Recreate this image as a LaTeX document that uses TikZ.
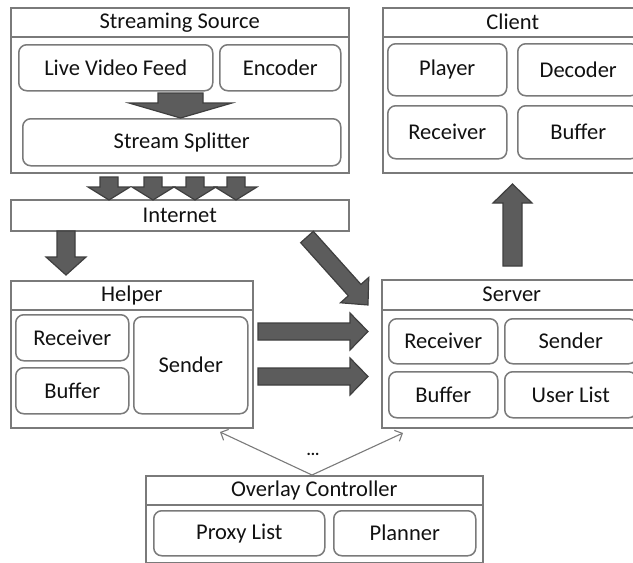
\documentclass[tikz,border=0pt]{standalone}
\usepackage{fontspec}
\setmainfont{Carlito}
\usetikzlibrary{calc,arrows.meta}

\definecolor{boxgray}{HTML}{7A7A7A}
\definecolor{arrowfill}{HTML}{5C5C5C}
\definecolor{arrowline}{HTML}{3F3F3F}
\definecolor{txt}{HTML}{111111}

% block arrow from #1 to #2: shaft half width #3, head half width #4, head length #5
\newcommand\blockarrow[5]{%
  \draw[blockarr] let \p1=(#1), \p2=(#2),
    \n1={atan2(\y2-\y1,\x2-\x1)}, \n2={veclen(\x2-\x1,\y2-\y1)} in
    [shift={(\p1)}, rotate=\n1]
    (0,#3) -- ({\n2-#5},#3) -- ({\n2-#5},#4) -- (\n2,0)
    -- ({\n2-#5},-#4) -- ({\n2-#5},-#3) -- (0,-#3) -- cycle;}

\tikzset{
  outer/.style={draw=boxgray, line width=1.5pt, inner sep=0pt, anchor=north west},
  band/.style={draw=boxgray, line width=1.5pt, inner sep=0pt, anchor=north west,
    text=txt, font=\fontsize{22.5}{26}\selectfont},
  part/.style={draw=boxgray, line width=1.5pt, rounded corners=8pt, inner sep=0pt,
    anchor=north west, text=txt, font=\fontsize{22.5}{26}\selectfont},
  blockarr/.style={fill=arrowfill, draw=arrowline, line width=1.2pt, line join=miter},
  thin/.style={draw=boxgray, line width=1.1pt, -{Straight Barb[length=6pt,width=12pt]}},
}

\begin{document}
\begin{tikzpicture}[x=1pt,y=1pt]
\useasboundingbox (0,0) rectangle (633,-563);
\clip (0,0) rectangle (633,-563);

% Streaming Source
\node[outer, minimum width=338pt, minimum height=165pt] (src) at (10,-7) {};
\node[band, minimum width=338pt, minimum height=29pt] (srct) at (10,-7) {Streaming Source};
\node[part, minimum width=194pt, minimum height=46pt] (feed) at (18,-44) {Live Video Feed};
\node[part, minimum width=121pt, minimum height=46pt] (enc) at (219,-44) {Encoder};
\node[part, minimum width=318pt, minimum height=47pt] (split) at (22,-118) {Stream Splitter};

% Internet
\node[band, minimum width=338pt, minimum height=31pt] (net) at (10,-199) {Internet};

% Client
\node[outer, minimum width=260pt, minimum height=165pt] (cli) at (382,-7) {};
\node[band, minimum width=260pt, minimum height=29pt] (clit) at (382,-7) {Client};
\node[part, minimum width=119pt, minimum height=52pt] (play) at (387,-43) {Player};
\node[part, minimum width=121pt, minimum height=52pt] (dec) at (517,-43) {Decoder};
\node[part, minimum width=119pt, minimum height=53pt] (crec) at (387,-105) {Receiver};
\node[part, minimum width=121pt, minimum height=53pt] (cbuf) at (517,-105) {Buffer};

% Helper
\node[outer, minimum width=242pt, minimum height=147pt] (hlp) at (10,-280) {};
\node[band, minimum width=242pt, minimum height=29pt] (hlpt) at (10,-280) {Helper};
\node[part, minimum width=113pt, minimum height=46pt] (hrec) at (15,-314) {Receiver};
\node[part, minimum width=113pt, minimum height=46pt] (hbuf) at (15,-367) {Buffer};
\node[part, minimum width=114pt, minimum height=97pt] (hsnd) at (133,-316) {Sender};

% Server
\node[outer, minimum width=260pt, minimum height=148pt] (srv) at (381,-279) {};
\node[band, minimum width=260pt, minimum height=30pt] (srvt) at (381,-279) {Server};
\node[part, minimum width=109pt, minimum height=45pt] (srec) at (388,-318) {Receiver};
\node[part, minimum width=132pt, minimum height=45pt] (ssnd) at (504,-318) {Sender};
\node[part, minimum width=109pt, minimum height=46pt] (sbuf) at (388,-371) {Buffer};
\node[part, minimum width=132pt, minimum height=46pt] (slist) at (504,-371) {User List};

% Overlay Controller
\node[outer, minimum width=337pt, minimum height=87pt] (ovl) at (145,-475) {};
\node[band, minimum width=337pt, minimum height=29pt] (ovlt) at (145,-475) {Overlay Controller};
\node[part, minimum width=171pt, minimum height=45pt] (proxy) at (153,-510) {Proxy List};
\node[part, minimum width=142pt, minimum height=45pt] (plan) at (333,-510) {Planner};
\node[text=txt, font=\bfseries\fontsize{16}{17}\selectfont] (dots) at (313,-454) {...};

% arrow end points
\coordinate (bigs) at (180.5,-93);   \coordinate (bige) at (180.5,-118);
\coordinate (s1s) at (109,-177);  \coordinate (s1e) at (109,-200);
\coordinate (s2s) at (153,-177);  \coordinate (s2e) at (153,-200);
\coordinate (s3s) at (195,-177);  \coordinate (s3e) at (195,-200);
\coordinate (s4s) at (236,-177);  \coordinate (s4e) at (236,-200);
\coordinate (hs) at (66,-231);    \coordinate (he) at (66,-275);
\coordinate (ds) at (307,-237);   \coordinate (de) at (368,-305);
\coordinate (r1s) at (258,-331.5); \coordinate (r1e) at (368,-331.5);
\coordinate (r2s) at (258,-376.5); \coordinate (r2e) at (368,-376.5);
\coordinate (us) at (512.5,-266); \coordinate (ue) at (512.5,-184);

% block arrows
\blockarrow{bigs}{bige}{22.5}{51.5}{15}
\blockarrow{s1s}{s1e}{9}{21}{13}
\blockarrow{s2s}{s2e}{9}{21}{13}
\blockarrow{s3s}{s3e}{9}{21}{13}
\blockarrow{s4s}{s4e}{9}{21}{13}
\blockarrow{hs}{he}{9}{20}{18}
\blockarrow{ds}{de}{8.5}{19}{20}
\blockarrow{r1s}{r1e}{8.5}{18.5}{18}
\blockarrow{r2s}{r2e}{8.5}{18.5}{18}
\blockarrow{us}{ue}{9.5}{19.5}{19}

% control links
\draw[thin] (ovl.north -| 312,0) -- (220,-432);
\draw[thin] (ovl.north -| 312,0) -- (403,-433);
\end{tikzpicture}
\end{document}
